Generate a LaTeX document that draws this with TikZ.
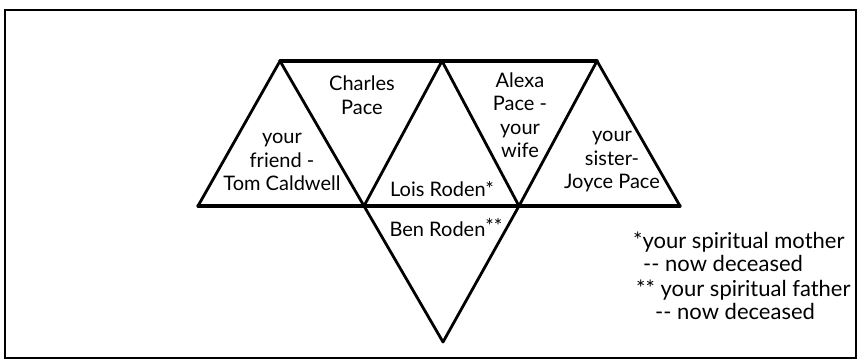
\documentclass[tikz,border=0pt]{standalone}
\usepackage{fontspec}
\setmainfont{Lato}
\begin{document}
\begin{tikzpicture}[x=1pt,y=-1pt,
  edge/.style={line width=2.8pt,line cap=round,line join=round},
  lbl/.style={align=center,inner sep=0pt,font=\fontsize{20}{23.5}\selectfont},
  note/.style={align=left,anchor=west,inner sep=0pt,font=\fontsize{22}{21}\selectfont}]
\useasboundingbox (0,0) rectangle (859,362);
\draw[line width=1.2pt] (5,10) rectangle (856,358);
% vertices
\coordinate (t1) at (280,61);
\coordinate (t2) at (442,61);
\coordinate (t3) at (597,61);
\coordinate (b0) at (198,206);
\coordinate (b1) at (364,206);
\coordinate (b2) at (519,206);
\coordinate (b3) at (680,206);
\coordinate (low) at (443,342);
% edges
\draw[edge,line width=3.2pt] (t1) -- (t2) -- (t3);
\draw[edge,line width=3.2pt] (b0) -- (b1) -- (b2) -- (b3);
\draw[edge] (b0) -- (t1) -- (b1) -- (t2) -- (b2) -- (t3) -- (b3);
\draw[edge] (b1) -- (low) -- (b2);
% labels
\node[lbl] (friend) at (282,162) {your\\friend -\\Tom Caldwell};
\node[lbl] (charles) at (362,95) {Charles\\Pace};
\node[lbl] (alexa) at (520,115) {Alexa\\Pace -\\your\\wife};
\node[lbl] (sister) at (612,162) {your\\sister-\\Joyce Pace};
\node[lbl] (lois) at (442,189) {Lois Roden*};
\node[lbl] (ben) at (446,228) {Ben Roden\raisebox{3pt}{**}};
\node[note] (n1) at (633,242) {*your spiritual mother};
\node[note] (n2) at (643,263) {-{}- now deceased};
\node[note] (n3) at (636,290) {** your spiritual father};
\node[note] (n4) at (655,311) {-{}- now deceased};
\end{tikzpicture}
\end{document}
